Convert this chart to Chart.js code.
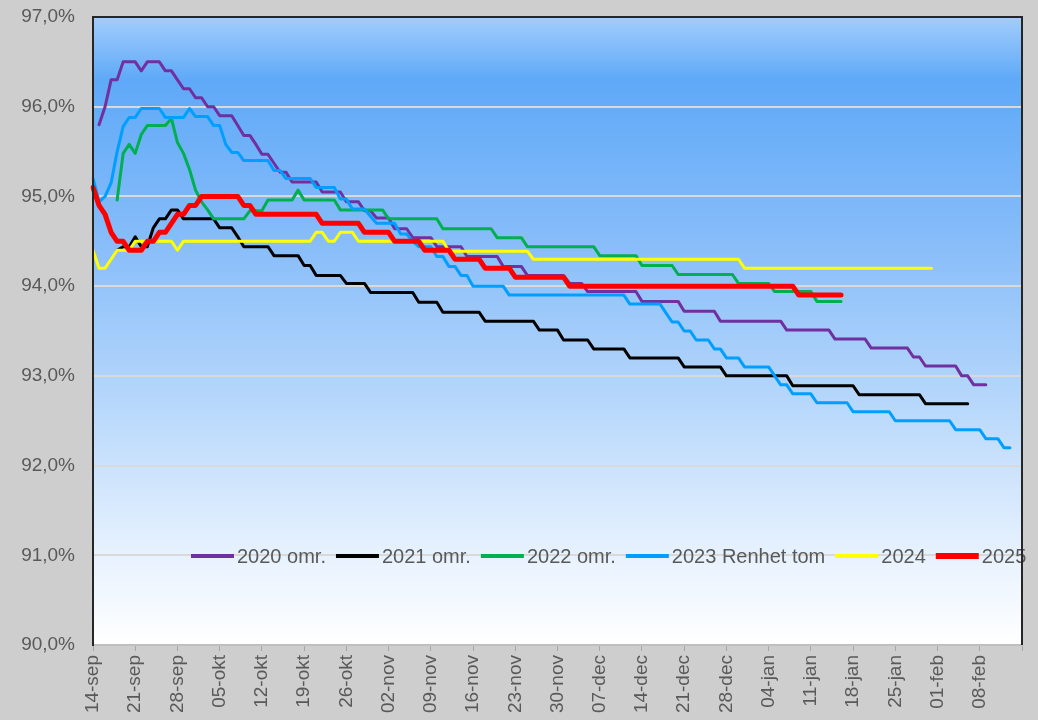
<!DOCTYPE html>
<html>
<head>
<meta charset="utf-8">
<script src="https://cdn.jsdelivr.net/npm/chart.js@4/dist/chart.umd.min.js"></script>
<style>
  html, body { margin: 0; padding: 0; background: #cecece; }
  #wrap { width: 1038px; height: 720px; }
</style>
</head>
<body>
<div id="wrap"><canvas id="c" width="1038" height="720"></canvas></div>
<script>
// ---- Categories (daily, 14-sep to 15-feb) ----
const monthSpans = [['sep', 14, 30], ['okt', 1, 31], ['nov', 1, 30], ['dec', 1, 31], ['jan', 1, 31], ['feb', 1, 15]];
const categories = [];
monthSpans.forEach(([m, a, b]) => { for (let d = a; d <= b; d++) categories.push(String(d).padStart(2, '0') + '-' + m); });

// ---- Tick labels shown (every 7th day) ----
const tickLabels = ['14-sep','21-sep','28-sep','05-okt','12-okt','19-okt','26-okt','02-nov','09-nov','16-nov','23-nov',
  '30-nov','07-dec','14-dec','21-dec','28-dec','04-jan','11-jan','18-jan','25-jan','01-feb','08-feb'];

const yTicks = [90, 91, 92, 93, 94, 95, 96, 97];

// ---- Series ----
const s2020 = [null,
  95.8,96.0,96.3,96.3,96.5,96.5,96.5,96.4,96.5,96.5,
  96.5,96.4,96.4,96.3,96.2,96.2,96.1,96.1,96.0,96.0,
  95.9,95.9,95.9,95.79,95.68,95.68,95.58,95.47,95.47,95.37,
  95.27,95.27,95.16,95.16,95.16,95.16,95.16,95.05,95.05,95.05,
  95.05,94.94,94.94,94.94,94.84,94.84,94.76,94.76,94.76,94.64,
  94.64,94.64,94.54,94.54,94.54,94.54,94.44,94.44,94.44,94.44,
  94.44,94.33,94.33,94.33,94.33,94.33,94.33,94.22,94.22,94.22,
  94.22,94.12,94.12,94.12,94.12,94.12,94.12,94.12,94.03,94.03,
  94.03,93.94,93.94,93.94,93.94,93.94,93.94,93.94,93.94,93.94,
  93.83,93.83,93.83,93.83,93.83,93.83,93.83,93.72,93.72,93.72,
  93.72,93.72,93.72,93.61,93.61,93.61,93.61,93.61,93.61,93.61,
  93.61,93.61,93.61,93.61,93.51,93.51,93.51,93.51,93.51,93.51,
  93.51,93.51,93.41,93.41,93.41,93.41,93.41,93.41,93.31,93.31,
  93.31,93.31,93.31,93.31,93.31,93.21,93.21,93.11,93.11,93.11,
  93.11,93.11,93.11,93.0,93.0,92.9,92.9,92.9];

const s2021 = [null,null,null,null,94.4,94.44,94.44,94.55,94.44,94.44,94.65,
  94.75,94.75,94.85,94.85,94.75,94.75,94.75,94.75,94.75,94.75,
  94.65,94.65,94.65,94.55,94.44,94.44,94.44,94.44,94.44,94.34,
  94.34,94.34,94.34,94.34,94.23,94.23,94.12,94.12,94.12,94.12,
  94.12,94.03,94.03,94.03,94.03,93.93,93.93,93.93,93.93,93.93,
  93.93,93.93,93.93,93.82,93.82,93.82,93.82,93.71,93.71,93.71,
  93.71,93.71,93.71,93.71,93.61,93.61,93.61,93.61,93.61,93.61,
  93.61,93.61,93.61,93.51,93.51,93.51,93.51,93.4,93.4,93.4,
  93.4,93.4,93.3,93.3,93.3,93.3,93.3,93.3,93.2,93.2,
  93.2,93.2,93.2,93.2,93.2,93.2,93.2,93.1,93.1,93.1,
  93.1,93.1,93.1,93.1,93.0,93.0,93.0,93.0,93.0,93.0,
  93.0,93.0,93.0,93.0,93.0,92.89,92.89,92.89,92.89,92.89,
  92.89,92.89,92.89,92.89,92.89,92.89,92.79,92.79,92.79,92.79,
  92.79,92.79,92.79,92.79,92.79,92.79,92.79,92.69,92.69,92.69,
  92.69,92.69,92.69,92.69,92.69];

const s2022 = [null,null,null,null,94.96,95.48,95.58,95.48,95.69,95.79,95.79,
  95.79,95.79,95.87,95.6,95.48,95.3,95.07,94.94,94.85,94.75,
  94.75,94.75,94.75,94.75,94.75,94.84,94.84,94.84,94.96,94.96,
  94.96,94.96,94.96,95.07,94.96,94.96,94.96,94.96,94.96,94.96,
  94.85,94.85,94.85,94.85,94.85,94.85,94.85,94.85,94.75,94.75,
  94.75,94.75,94.75,94.75,94.75,94.75,94.75,94.64,94.64,94.64,
  94.64,94.64,94.64,94.64,94.64,94.64,94.54,94.54,94.54,94.54,
  94.54,94.44,94.44,94.44,94.44,94.44,94.44,94.44,94.44,94.44,
  94.44,94.44,94.44,94.34,94.34,94.34,94.34,94.34,94.34,94.34,
  94.23,94.23,94.23,94.23,94.23,94.23,94.13,94.13,94.13,94.13,
  94.13,94.13,94.13,94.13,94.13,94.13,94.03,94.03,94.03,94.03,
  94.03,94.03,93.94,93.94,93.94,93.94,93.94,93.94,93.94,93.83,
  93.83,93.83,93.83,93.83];

const s2023 = [95.2,94.94,95.0,95.15,95.5,95.78,95.88,95.88,95.98,95.98,95.98,
  95.98,95.88,95.88,95.88,95.88,95.98,95.89,95.89,95.89,95.79,
  95.79,95.58,95.49,95.49,95.4,95.4,95.4,95.4,95.4,95.29,
  95.29,95.2,95.2,95.2,95.2,95.2,95.1,95.1,95.1,95.1,
  94.97,94.97,94.86,94.86,94.86,94.78,94.7,94.7,94.7,94.7,
  94.58,94.58,94.5,94.44,94.44,94.44,94.33,94.33,94.22,94.22,
  94.12,94.12,94.0,94.0,94.0,94.0,94.0,94.0,93.9,93.9,
  93.9,93.9,93.9,93.9,93.9,93.9,93.9,93.9,93.9,93.9,
  93.9,93.9,93.9,93.9,93.9,93.9,93.9,93.9,93.8,93.8,
  93.8,93.8,93.8,93.8,93.7,93.6,93.6,93.5,93.5,93.4,
  93.4,93.4,93.3,93.3,93.2,93.2,93.2,93.1,93.1,93.1,
  93.1,93.1,93.0,92.9,92.9,92.8,92.8,92.8,92.8,92.7,
  92.7,92.7,92.7,92.7,92.7,92.6,92.6,92.6,92.6,92.6,
  92.6,92.6,92.5,92.5,92.5,92.5,92.5,92.5,92.5,92.5,
  92.5,92.5,92.4,92.4,92.4,92.4,92.4,92.3,92.3,92.3,
  92.2,92.2];

const s2024 = [94.4,94.2,94.2,94.3,94.4,94.4,94.4,94.5,94.5,94.5,94.5,
  94.5,94.5,94.5,94.4,94.5,94.5,94.5,94.5,94.5,94.5,
  94.5,94.5,94.5,94.5,94.5,94.5,94.5,94.5,94.5,94.5,
  94.5,94.5,94.5,94.5,94.5,94.5,94.6,94.6,94.5,94.5,
  94.6,94.6,94.6,94.5,94.5,94.5,94.5,94.5,94.5,94.5,
  94.5,94.5,94.5,94.5,94.5,94.5,94.5,94.5,94.39,94.39,
  94.39,94.39,94.39,94.39,94.39,94.39,94.39,94.39,94.39,94.39,
  94.39,94.39,94.3,94.3,94.3,94.3,94.3,94.3,94.3,94.3,
  94.3,94.3,94.3,94.3,94.3,94.3,94.3,94.3,94.3,94.3,
  94.3,94.3,94.3,94.3,94.3,94.3,94.3,94.3,94.3,94.3,
  94.3,94.3,94.3,94.3,94.3,94.3,94.3,94.2,94.2,94.2,
  94.2,94.2,94.2,94.2,94.2,94.2,94.2,94.2,94.2,94.2,
  94.2,94.2,94.2,94.2,94.2,94.2,94.2,94.2,94.2,94.2,
  94.2,94.2,94.2,94.2,94.2,94.2,94.2,94.2,94.2];

const s2025 = [95.1,94.9,94.8,94.6,94.5,94.5,94.4,94.4,94.4,94.5,94.5,
  94.6,94.6,94.7,94.8,94.8,94.9,94.9,95.0,95.0,95.0,
  95.0,95.0,95.0,95.0,94.9,94.9,94.8,94.8,94.8,94.8,
  94.8,94.8,94.8,94.8,94.8,94.8,94.8,94.7,94.7,94.7,
  94.7,94.7,94.7,94.7,94.6,94.6,94.6,94.6,94.6,94.5,
  94.5,94.5,94.5,94.5,94.4,94.4,94.4,94.4,94.4,94.3,
  94.3,94.3,94.3,94.3,94.2,94.2,94.2,94.2,94.2,94.1,
  94.1,94.1,94.1,94.1,94.1,94.1,94.1,94.1,94.0,94.0,
  94.0,94.0,94.0,94.0,94.0,94.0,94.0,94.0,94.0,94.0,
  94.0,94.0,94.0,94.0,94.0,94.0,94.0,94.0,94.0,94.0,
  94.0,94.0,94.0,94.0,94.0,94.0,94.0,94.0,94.0,94.0,
  94.0,94.0,94.0,94.0,94.0,94.0,93.9,93.9,93.9,93.9,
  93.9,93.9,93.9,93.9];

const seriesNames = ['2020 omr.', '2021 omr.', '2022 omr.', '2023 Renhet tom', '2024', '2025'];
const seriesData = [s2020, s2021, s2022, s2023, s2024, s2025];
const seriesColors = ['#7030a0', '#000000', '#00b050', '#009fff', '#ffff00', '#ff0000'];
const seriesWidths = [3, 3, 3, 3, 3, 5];

const FONT = '"Liberation Sans", Arial, sans-serif';

const bgPlugin = {
  id: 'bg',
  beforeDraw(chart) {
    const { ctx, chartArea: a } = chart;
    ctx.save();
    ctx.fillStyle = '#cecece';
    ctx.fillRect(0, 0, chart.width, chart.height);
    const g = ctx.createLinearGradient(0, a.top, 0, a.bottom);
    g.addColorStop(0, '#a3cdfc');
    g.addColorStop(0.1, '#5ea9f8');
    g.addColorStop(0.35, '#86bcf9');
    g.addColorStop(0.6, '#b4d6fb');
    g.addColorStop(0.85, '#e6f1fe');
    g.addColorStop(1, '#ffffff');
    ctx.fillStyle = g;
    ctx.fillRect(a.left, a.top, a.right - a.left, a.bottom - a.top);
    ctx.restore();
  },
  afterDraw(chart) {
    const { ctx, chartArea: a } = chart;
    ctx.save();
    ctx.strokeStyle = '#262626';
    ctx.lineWidth = 2;
    ctx.beginPath();
    ctx.moveTo(a.left, a.bottom);
    ctx.lineTo(a.left, a.top);
    ctx.lineTo(a.right, a.top);
    ctx.lineTo(a.right, a.bottom);
    ctx.stroke();
    ctx.restore();
  }
};

const legendPlugin = {
  id: 'customLegend',
  afterDatasetsDraw(chart) {
    const c = chart.ctx;
    c.save();
    c.font = '20px ' + FONT;
    c.textBaseline = 'middle';
    c.textAlign = 'left';
    let x = 191;
    const y = 556;
    chart.data.datasets.forEach(ds => {
      c.strokeStyle = ds.borderColor;
      c.lineWidth = ds.borderWidth + 1;
      c.lineCap = 'butt';
      c.beginPath(); c.moveTo(x, y); c.lineTo(x + 43, y); c.stroke();
      x += 46;
      c.fillStyle = '#595959';
      c.fillText(ds.label, x, y + 1);
      x += c.measureText(ds.label).width + 10;
    });
    c.restore();
  }
};

const datasets = seriesNames.map((name, i) => ({
  label: name,
  data: seriesData[i],
  borderColor: seriesColors[i],
  backgroundColor: seriesColors[i],
  borderWidth: seriesWidths[i],
  pointRadius: 0,
  tension: 0,
  fill: false,
  order: seriesNames.length - i,
  borderJoinStyle: 'round',
  borderCapStyle: 'round'
}));

new Chart(document.getElementById('c'), {
  type: 'line',
  data: { labels: categories, datasets },
  options: {
    responsive: false,
    animation: false,
    layout: { padding: { top: 17, right: 16, left: 0, bottom: 0 } },
    plugins: { legend: { display: false }, tooltip: { enabled: false } },
    scales: {
      x: {
        type: 'category',
        offset: false,
        grid: {
          drawOnChartArea: false,
          drawTicks: true,
          tickLength: 6,
          lineWidth: 1,
          color: (ctx) => (ctx.index % 7 === 0 ? '#a6a6a6' : 'rgba(0,0,0,0)')
        },
        border: { display: true, color: '#bfbfbf', width: 2 },
        ticks: {
          autoSkip: false,
          maxRotation: 90,
          minRotation: 90,
          padding: 4,
          color: '#595959',
          font: { family: FONT, size: 19 },
          callback: (v, i) => (i % 7 === 0 && tickLabels[i / 7] !== undefined ? tickLabels[i / 7] : '')
        },
        afterFit: (s) => { s.height = 75; s.paddingLeft = 0; s.paddingRight = 0; }
      },
      y: {
        min: yTicks[0],
        max: yTicks[yTicks.length - 1],
        afterBuildTicks: (s) => { s.ticks = yTicks.map(v => ({ value: v })); },
        grid: {
          drawTicks: false,
          lineWidth: 2,
          color: (ctx) => (ctx.tick && (ctx.tick.value === 90 || ctx.tick.value === 97) ? 'rgba(0,0,0,0)' : '#d9d9d9')
        },
        border: { display: true, color: '#262626', width: 2 },
        ticks: {
          padding: 18,
          color: '#595959',
          font: { family: FONT, size: 19 },
          callback: (v) => v.toFixed(1).replace('.', ',') + '%'
        },
        afterFit: (s) => { s.width = 93; s.paddingTop = 0; s.paddingBottom = 0; }
      }
    }
  },
  plugins: [bgPlugin, legendPlugin]
});
</script>
</body>
</html>
